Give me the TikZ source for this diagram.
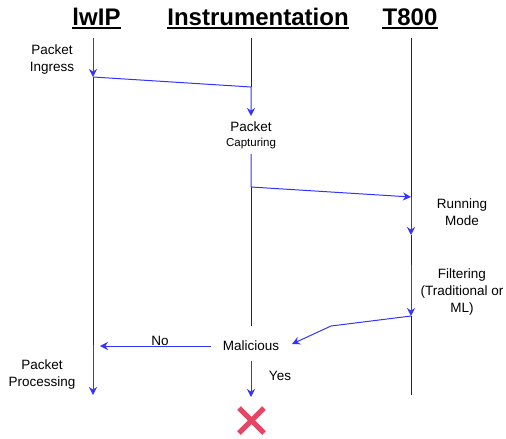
\documentclass[tikz,border=0pt]{standalone}
\usepackage{fontspec}
\setmainfont{Liberation Sans}
\usetikzlibrary{arrows.meta}
\definecolor{msgblue}{RGB}{51,51,255}
\definecolor{dropred}{RGB}{228,70,100}
\tikzset{
  head/.style={font=\bfseries\fontsize{24}{28}\selectfont, inner sep=0pt, anchor=base},
  lbl/.style={font=\fontsize{13.5}{17}\selectfont, align=center, inner sep=1pt},
  life/.style={black!85, line width=1pt},
  msg/.style={msgblue, line width=1pt, -{Stealth[length=8pt,width=8pt]}},
}
\begin{document}
\begin{tikzpicture}[x=1pt, y=-1pt]
  \useasboundingbox (0,0) rectangle (506,439);

  % headers
  \node[head] (lwip) at (96.5,25) {lwIP};
  \node[head] (instr) at (258,25) {Instrumentation};
  \node[head] (t800) at (410,25) {T800};
  \foreach \h in {lwip, instr, t800}
    \draw[line width=2pt] ([yshift=-2.5pt]\h.south west) -- ([yshift=-2.5pt]\h.south east);

  % lifeline points
  \coordinate (L0) at (93,38);
  \coordinate (L1) at (93,77);
  \coordinate (L2) at (93,345);
  \coordinate (L3) at (93,395);
  \coordinate (I0) at (251,38);
  \coordinate (I1) at (251,87);
  \coordinate (I2) at (251,116);
  \coordinate (I3) at (251,154);
  \coordinate (I4) at (251,187);
  \coordinate (I5) at (251,326);
  \coordinate (I6) at (251,361);
  \coordinate (I7) at (251,397);
  \coordinate (T0) at (411,38);
  \coordinate (T1) at (411,197);
  \coordinate (T2) at (411,235);
  \coordinate (T3) at (411,265);
  \coordinate (T4) at (411,316);
  \coordinate (T5) at (411,395);
  \coordinate (bend) at (331,326);
  \coordinate (malR) at (292,344);
  \coordinate (malL) at (211,346);
  \coordinate (proc) at (100,346);

  % labels
  \node[lbl] (ingress) at (52,60) {Packet\\Ingress};
  \node[lbl] (capture) at (251,135) {Packet\\[-2pt]{\fontsize{11.5}{13}\selectfont Capturing}};
  \node[lbl] (running) at (462,212) {Running\\Mode};
  \node[lbl] (filter) at (462,292) {Filtering\\(Traditional or\\ML)};
  \node[lbl] (malic) at (251,346) {Malicious};
  \node[lbl] (no) at (160,341) {No};
  \node[lbl] (yes) at (280,376) {Yes};
  \node[lbl] (process) at (42,375) {Packet\\Processing};

  % black lifelines
  \draw[life] (L1) -- (L2);
  \draw[life] (I0) -- (I1);
  \draw[life] (I4) -- (I5);
  \draw[life] (T0) -- (T1);
  \draw[life] (T2) -- (T3);
  \draw[life] (T4) -- (T5);

  % messages
  \draw[msg] (L0) -- (L1);
  \draw[msg] (L1) -- (I1) -- (I2);
  \draw[msg] (I3) -- (I4) -- (T1);
  \draw[msg] (T1) -- (T2);
  \draw[msg] (T3) -- (T4);
  \draw[msg] (T4) -- (bend) -- (malR);
  \draw[msg] (malL) -- (proc);
  \draw[msg] (L2) -- (L3);
  \draw[msg] (I6) -- (I7);

  % dropped packet
  \coordinate (drop) at (251.5,420.5);
  \draw[dropred, line width=5pt]
    ([shift={(-12.5,-12.5)}]drop) -- ([shift={(12.5,12.5)}]drop)
    ([shift={(12.5,-12.5)}]drop) -- ([shift={(-12.5,12.5)}]drop);
\end{tikzpicture}
\end{document}
